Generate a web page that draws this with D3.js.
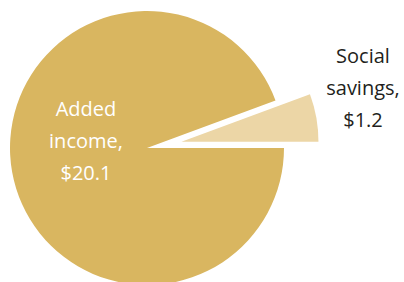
<!DOCTYPE html>
<html>
<head>
<meta charset="utf-8">
<script src="https://cdn.jsdelivr.net/npm/d3@7"></script>
<style>
  body { margin: 0; background: #fff; }
  svg { display: block; }
</style>
</head>
<body>
<script>
// dimensions
const width = 404;
const height = 282;

// data
const categories = ["Social savings", "Added income"];
const values = [1.2, 20.1];
const labelLines = [["Social", "savings,", "$1.2"], ["Added", "income,", "$20.1"]];
const colors = ["#ecd6a6", "#d9b660"];
const textColors = ["#231f20", "#ffffff"];

const cx = 147;
const cy = 148;
const radius = 137;
const explode = 35;
const lineHeight = 32;

let svg = d3.select("body")
    .append("svg")
    .attr("width", width)
    .attr("height", height);

// small slice ends at 3 o'clock, big one takes the rest
const total = d3.sum(values);
const start = Math.PI / 2 - 2 * Math.PI * values[0] / total;

let pie = d3.pie()
    .sort(null)
    .startAngle(start)
    .endAngle(start + 2 * Math.PI);

let arc = d3.arc()
    .innerRadius(0)
    .outerRadius(radius);

let arcs = pie(values);

let g = svg.append("g")
    .attr("transform", "translate(" + cx + "," + cy + ")");

g.selectAll("path")
    .data(arcs)
    .enter()
    .append("path")
    .attr("d", arc)
    .attr("fill", function (d, i) { return colors[i]; })
    .attr("transform", function (d, i) {
        if (i !== 0) return null;
        let mid = (d.startAngle + d.endAngle) / 2;
        return "translate(" + (Math.sin(mid) * explode) + "," + (-Math.cos(mid) * explode) + ")";
    });

// label positions (relative to pie centre)
const labelPos = [[216, -85], [-61, -32]];

labelLines.forEach(function (lines, i) {
    let t = svg.append("text")
        .attr("x", cx + labelPos[i][0])
        .attr("y", cy + labelPos[i][1])
        .attr("text-anchor", "middle")
        .attr("font-family", "'Open Sans', sans-serif")
        .attr("font-size", 20)
        .attr("fill", textColors[i]);
    lines.forEach(function (l, j) {
        t.append("tspan")
            .attr("x", cx + labelPos[i][0])
            .attr("dy", j === 0 ? 0 : lineHeight)
            .text(l);
    });
});
</script>
</body>
</html>
